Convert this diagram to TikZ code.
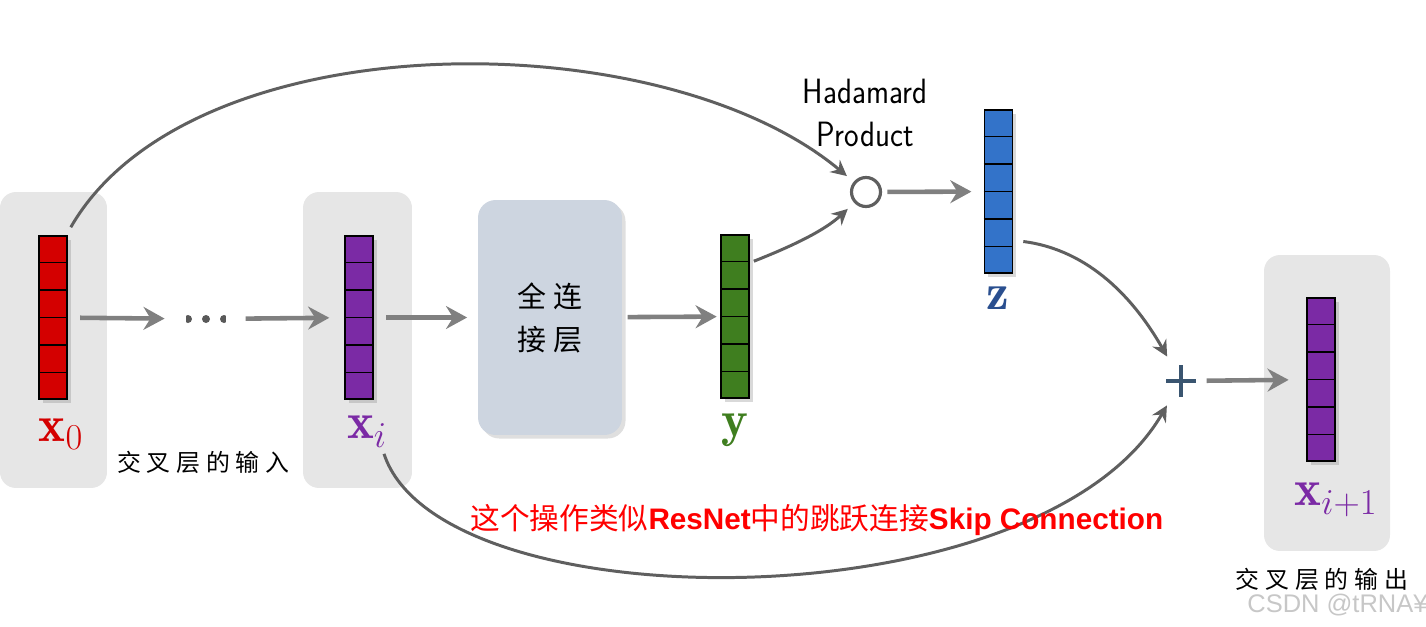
\documentclass[tikz,border=0pt]{standalone}
\usepackage{fontspec}
\newfontfamily\cjk{Noto Sans CJK SC}
\newfontfamily\cjkwide[LetterSpace=24]{Noto Sans CJK SC}
\newfontfamily\arial{Liberation Sans}
\usetikzlibrary{arrows.meta,shadows,calc}

\definecolor{vecred}{HTML}{D40000}
\definecolor{vecpurple}{HTML}{7B2AA5}
\definecolor{vecgreen}{HTML}{3F7E1F}
\definecolor{vecblue}{HTML}{3373C9}
\definecolor{zlabel}{HTML}{2A4F8F}
\definecolor{panelgray}{HTML}{E6E6E6}
\definecolor{fcfill}{HTML}{CDD5E0}
\definecolor{flowgray}{HTML}{808080}
\definecolor{curvegray}{HTML}{5F5F5F}
\definecolor{plusblue}{HTML}{3A5570}

\tikzset{
  panel/.style={fill=panelgray, rounded corners=9pt, minimum height=5.92cm},
  vec/.style={draw=black, line width=0.9pt, minimum width=0.56cm, minimum height=3.26cm,
    inner sep=0pt, drop shadow={opacity=0.3, shadow xshift=2pt, shadow yshift=-2pt}},
  flow/.style={draw=flowgray, line width=2.6pt, -{Stealth[length=12pt,width=13pt,inset=4pt]}},
  skip/.style={draw=curvegray, line width=1.7pt, -{Stealth[length=9pt,width=9pt,inset=3pt]}},
  veclab/.style={font=\fontsize{29}{29}\selectfont, inner sep=1pt},
  caption/.style={font=\fontsize{13.6}{16}\selectfont\cjkwide, inner sep=0pt},
}

\newcommand{\veccells}[1]{%
  \foreach \k in {1,...,5}
    \draw[line width=0.8pt] ($(#1.north west)!\k/6!(#1.south west)$) -- ($(#1.north east)!\k/6!(#1.south east)$);}

\begin{document}
\begin{tikzpicture}[x=0.02cm,y=-0.02cm]
\useasboundingbox (0,0) rectangle (1426,626);

% panels
\node[panel, minimum width=2.14cm] (inpanel) at (53.5,340) {};
\node[panel, minimum width=2.18cm] (ipanel) at (357.5,340) {};
\node[panel, minimum width=2.52cm] (outpanel) at (1327,403) {};

% vectors
\node[vec, fill=vecred] (x0) at (53,317.5) {};
\node[vec, fill=vecpurple] (xi) at (359,317.5) {};
\node[vec, fill=vecgreen] (y) at (735,316.5) {};
\node[vec, fill=vecblue] (z) at (998.5,191.5) {};
\node[vec, fill=vecpurple] (xout) at (1321,379.5) {};
\veccells{x0} \veccells{xi} \veccells{y} \veccells{z} \veccells{xout}

% labels
\node[veclab, text=vecred] (x0lab) at (61,434) {$\mathbf{x}_0$};
\node[veclab, text=vecpurple] (xilab) at (367,432) {$\mathbf{x}_i$};
\node[veclab, text=vecgreen] (ylab) at (735,430) {$\mathbf{y}$};
\node[veclab, text=zlabel] (zlab) at (998,298) {$\mathbf{z}$};
\node[veclab, text=vecpurple] (xoutlab) at (1336,500) {$\mathbf{x}_{i+1}$};
\node[caption, anchor=west] (incap) at (117,462) {交叉层的输入};
\node[caption] (outcap) at (1322,579) {交叉层的输出};

% fully connected layer
\node[fill=fcfill, rounded corners=10pt, minimum width=2.88cm, minimum height=4.7cm,
  drop shadow={opacity=0.25, shadow xshift=2pt, shadow yshift=-2pt},
  font=\fontsize{16.5}{24.5}\selectfont\cjkwide, align=center] (fc) at (550,317.5) {全连\\接层};

\node[minimum width=0.8cm, minimum height=0.3cm, inner sep=0pt,
  path picture={\foreach \d in {-1,0,1}
    \fill[black!65] ($(path picture bounding box.center)+(\d*18,0)$) circle (4);}] (dots) at (206,319) {};

% hadamard product and sum
\node[circle, draw=curvegray, line width=1.8pt, minimum size=0.58cm, inner sep=0pt] (hp) at (866,192) {};
\node[align=center, font=\fontsize{20}{24.5}\selectfont\sffamily] (hplab) at (865,113)
  {\scalebox{0.88}[1]{Hadamard}\\\scalebox{0.88}[1]{Product}};
\node[minimum width=0.66cm, minimum height=0.72cm, inner sep=0pt,
  path picture={\draw[plusblue, line width=1.8pt]
    ($(path picture bounding box.center)+(-15,0)$) -- ($(path picture bounding box.center)+(15,0)$)
    ($(path picture bounding box.center)+(0,-16)$) -- ($(path picture bounding box.center)+(0,16)$);}] (plus) at (1181,381) {};

% main flow
\draw[flow, shorten <=7pt, shorten >=12pt] (x0) -- (dots);
\draw[flow, shorten <=11pt, shorten >=8.5pt] (dots) -- (xi);
\draw[flow, shorten <=7pt, shorten >=6pt] (xi) -- (fc);
\draw[flow, shorten <=3pt, shorten >=2pt] (fc) -- (y);
\draw[flow, shorten <=3pt, shorten >=7pt] (hp) -- (z);
\draw[flow, shorten <=5pt, shorten >=10pt] (plus) -- (xout);

% curved connections
\draw[skip, shorten >=5pt] ($(x0.north east)+(3,-8)$) .. controls (190,20) and (660,20) .. (hp);
\draw[skip, shorten >=5pt] ($(y.north east)+(4,27)$) .. controls (795,245) and (825,230) .. (hp);
\draw[skip, shorten >=4pt] ($(z.east)+(10,50)$) .. controls (1090,250) and (1135,300) .. (plus);
\draw[skip, shorten >=4pt] ($(xilab.south)+(17,4)$) .. controls (440,625) and (1040,625) .. (plus);

\node[text=red, inner sep=0pt, anchor=west, font=\fontsize{16.9}{20}\selectfont] (note) at (470,520)
  {\cjk 这个操作类似\arial\bfseries ResNet\cjk\mdseries 中的跳跃连接\arial\bfseries Skip Connection};

\node[text=black!22, anchor=west, inner sep=0pt, font=\fontsize{14.5}{15}\selectfont\arial] (mark) at (1247,605) {CSDN @tRNA¥};
\end{tikzpicture}
\end{document}
